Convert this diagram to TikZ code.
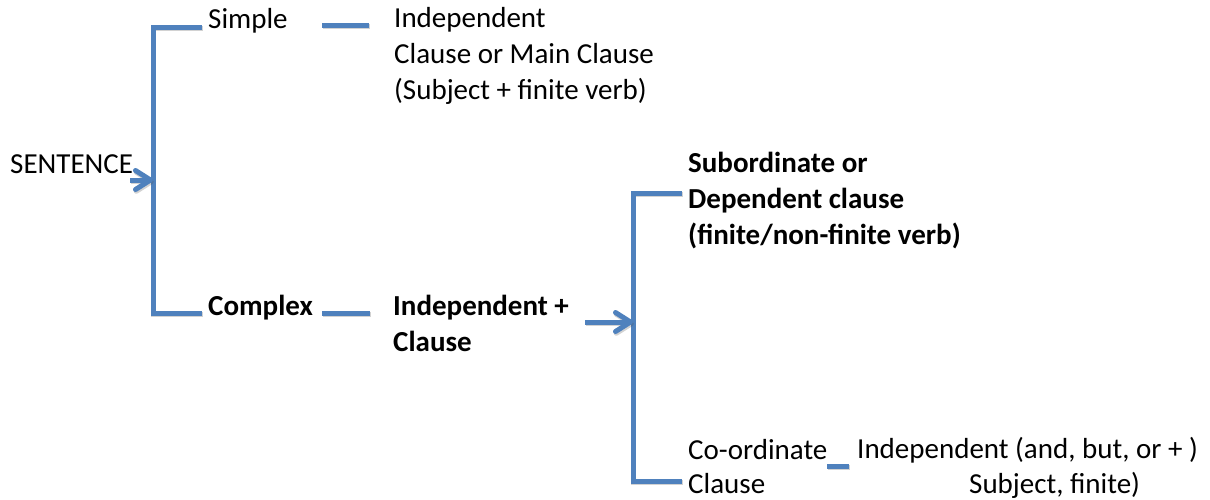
\documentclass[tikz,border=0pt]{standalone}
\usepackage{fontspec}
\setmainfont{Carlito}
\usetikzlibrary{arrows.meta}
\definecolor{office}{HTML}{4F81BD}
\begin{document}
\begin{tikzpicture}[x=1pt,y=-1pt,
  txt/.style={anchor=base west, inner sep=0pt, font=\fontsize{29}{36}\selectfont},
  btxt/.style={txt, font=\fontsize{29}{36}\selectfont\bfseries},
  bline/.style={draw=office, line width=5pt,
    preaction={draw=black!70, opacity=0.25, line width=5pt,
      transform canvas={shift={(0.8pt,-1.8pt)}}}},
  barrow/.style={bline, -{Straight Barb[length=15pt,width=19pt,round]}}
]
\useasboundingbox (0,0) rectangle (1210,499);

% texts
\node[txt] (sent) at (10,173) {SENTENCE};
\node[txt] (simple) at (208,28) {Simple};
\node[txt] (indep) at (394,27) {\begin{tabular}[t]{@{}l@{}}Independent\\Clause or Main Clause\\(Subject + finite verb)\end{tabular}};
\node[btxt] (complex) at (208,315) {Complex};
\node[btxt] (indcl) at (393,315) {\begin{tabular}[t]{@{}l@{}}Independent +\\Clause\end{tabular}};
\node[btxt] (subord) at (688,172) {\begin{tabular}[t]{@{}l@{}}Subordinate or\\Dependent clause\\(finite/non-finite verb)\end{tabular}};
\node[txt] (coord) at (688,459) {Co-ordinate};
\node[txt] (coordcl) at (688,493) {Clause};
\node[txt] (indand) at (857,458) {Independent (and, but, or + )};
\node[txt] (subjfin) at (969,493) {Subject, finite)};

% bracket 1
\coordinate (b1a) at (202,27);
\coordinate (b1t) at (153,27);
\coordinate (b1m) at (153,180);
\coordinate (b1b) at (153,313);
\coordinate (b1c) at (202,313);
\draw[bline] (b1a) -- (b1t) -- (b1b) -- (b1c);
\coordinate (a1s) at (130,180);
\draw[barrow] (a1s) -- (b1m);

% dashes
\coordinate (d1a) at (322,25); \coordinate (d1b) at (369,25);
\draw[bline] (d1a) -- (d1b);
\coordinate (d2a) at (322,313); \coordinate (d2b) at (370,313);
\draw[bline] (d2a) -- (d2b);

% bracket 2
\coordinate (b2a) at (682,193);
\coordinate (b2t) at (633,193);
\coordinate (b2m) at (633,322);
\coordinate (b2b) at (633,481);
\coordinate (b2c) at (682,481);
\draw[bline] (b2a) -- (b2t) -- (b2b) -- (b2c);
\coordinate (a2s) at (585,322);
\draw[barrow] (a2s) -- (b2m);

% small dash
\coordinate (d3a) at (827,466); \coordinate (d3b) at (849,466);
\draw[bline] (d3a) -- (d3b);
\end{tikzpicture}
\end{document}
